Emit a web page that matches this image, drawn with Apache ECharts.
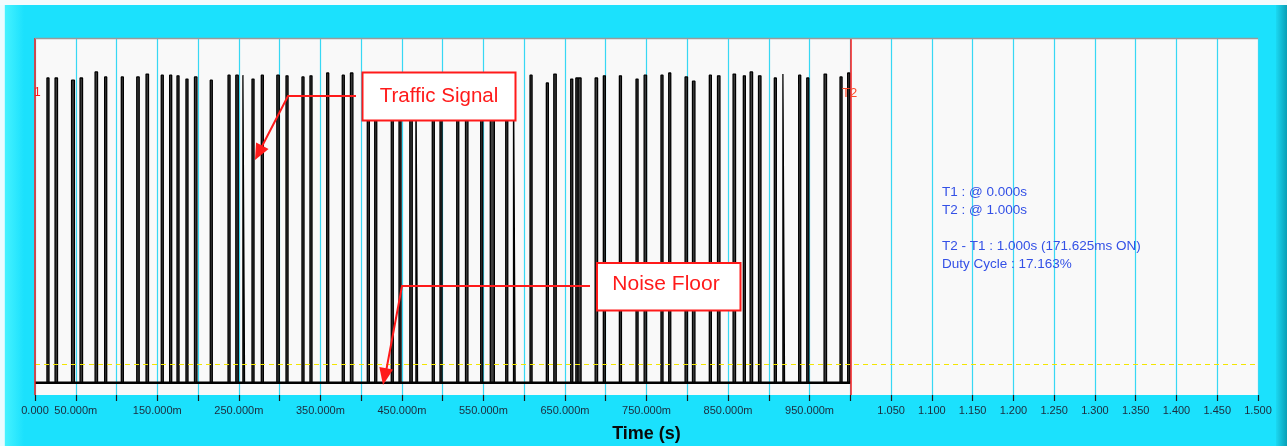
<!DOCTYPE html>
<html>
<head>
<meta charset="utf-8">
<script src="https://cdn.jsdelivr.net/npm/echarts@6/dist/echarts.min.js"></script>
<style>
html,body{margin:0;padding:0;background:#1be1fd;}
#chart{width:1287px;height:446px;}
</style>
</head>
<body>
<div id="chart"></div>
<script>
// ---- Data (time in ms, amplitude in arbitrary units 0..100) ----
const pulseCenters = [
  15.9, 26.1, 46.6, 56.8, 75.2, 86.7, 107.1, 126.3, 137.7, 156.1, 166.4, 175.4,
  186.4, 197.1, 216.2, 238.0, 247.8, 256.0, 267.4, 278.8, 298.1, 309.1, 328.7,
  338.5, 359.0, 378.1, 388.4, 408.8, 417.9, 438.2, 447.7, 461.2, 468.2, 488.5,
  498.0, 518.5, 529.5, 547.9, 560.9, 578.6, 587.9, 608.4, 628.4, 637.8, 658.3,
  664.6, 668.0, 688.5, 698.3, 718.0, 738.4, 748.6, 769.0, 778.5, 798.8, 807.9,
  828.3, 838.6, 857.7, 870.0, 878.6, 888.9, 908.0, 918.3, 937.9, 947.8, 969.3,
  988.6, 998.0
];
const pulseWidths = [
  2.5, 3.0, 3.5, 3.0, 3.0, 2.5, 2.5, 3.0, 3.0, 2.5, 2.5, 2.5,
  2.5, 3.0, 2.5, 2.5, 3.0, 2.0, 2.5, 2.5, 3.0, 2.5, 2.5,
  2.5, 2.5, 2.5, 3.0, 2.5, 2.5, 2.5, 2.5, 3.0, 2.0, 2.5,
  2.5, 2.5, 3.0, 2.5, 5.0, 2.5, 2.0, 2.5, 2.5, 3.0, 2.5,
  2.5, 3.5, 3.0, 2.5, 2.5, 2.5, 3.0, 2.5, 2.5, 3.0, 3.0,
  2.5, 3.0, 3.0, 2.5, 3.0, 3.0, 2.5, 2.0, 2.5, 2.5, 3.0,
  2.5, 2.5
];
const pulseHeights = [
  88.8, 88.8, 88.2, 88.8, 90.5, 89.1, 89.1, 89.1, 89.9, 89.6, 89.6, 89.4,
  88.5, 89.1, 88.2, 89.6, 89.6, 89.6, 88.5, 89.6, 89.6, 89.4, 89.1,
  89.4, 90.2, 89.6, 90.2, 89.4, 89.4, 89.4, 89.4, 89.4, 89.4, 89.4,
  89.4, 89.4, 89.4, 89.4, 89.4, 89.4, 89.4, 89.6, 87.4, 89.9, 88.5,
  88.8, 88.8, 88.8, 89.4, 89.4, 88.5, 89.6, 89.6, 90.2, 89.1, 87.9,
  89.6, 89.4, 89.9, 89.4, 90.5, 89.4, 88.8, 89.9, 89.6, 88.8, 89.9,
  89.1, 90.2
];
const baseLevel = 3.4;          // noise floor trace level
const noiseFloorLevel = 8.7;    // yellow dashed threshold
const cursorT1 = 0.0;           // seconds
const cursorT2 = 1.0;           // seconds
const xMin = 0, xMax = 1.5, xStep = 0.05;
const infoLines = [
  'T1 : @ 0.000s',
  'T2 : @ 1.000s',
  '',
  'T2 - T1 : 1.000s (171.625ms ON)',
  'Duty Cycle : 17.163%'
];

// ---- Build the trace from the arrays ----
const trace = [[cursorT1, baseLevel]];
for (let i = 0; i < pulseCenters.length; i++) {
  const s = (pulseCenters[i] - pulseWidths[i] / 2) / 1000;
  const e = (pulseCenters[i] + pulseWidths[i] / 2) / 1000;
  trace.push([s, baseLevel], [s, pulseHeights[i]], [e, pulseHeights[i]], [e, baseLevel]);
}
trace.push([cursorT2, baseLevel]);
const baseline = [[cursorT1, baseLevel], [cursorT2, baseLevel]];

function tickLabel(v) {
  const ms = Math.round(v * 1000);
  if (ms === 0) return '0.000';
  if (ms < 1000) return (ms % 100 === 50) ? ms.toFixed(3) + 'm' : '';
  if (ms === 1000) return '';
  return (ms / 1000).toFixed(3);
}

function arrowHead(fx, fy, tx, ty, len, hw) {
  const dx = tx - fx, dy = ty - fy, L = Math.hypot(dx, dy);
  const ux = dx / L, uy = dy / L, px = -uy, py = ux;
  const bx = tx - ux * len, by = ty - uy * len;
  return [[tx, ty], [bx + px * hw, by + py * hw], [bx - px * hw, by - py * hw]];
}

const chart = echarts.init(document.getElementById('chart'), null, {renderer: 'canvas'});
const red = '#ff1a1a';
const option = {
  animation: false,
  backgroundColor: '#1be1fd',
  grid: {left: 35, right: 29, top: 38, bottom: 51, show: true, backgroundColor: '#f9f9f9', borderWidth: 0,
    containLabel: false, outerBoundsMode: 'none'},
  xAxis: {
    type: 'value', min: xMin, max: xMax, interval: xStep,
    axisLine: {show: false},
    axisTick: {show: true, length: 6, lineStyle: {color: '#1a1a1a', width: 1.2}},
    axisLabel: {show: true, margin: 10, fontSize: 11, fontFamily: 'Liberation Sans, Arial', color: '#1c2a3c',
      formatter: tickLabel, showMinLabel: true, showMaxLabel: true, hideOverlap: false},
    splitLine: {show: true, lineStyle: {color: '#37d8f4', width: 1.2}},
    name: 'Time (s)', nameLocation: 'middle', nameGap: 30,
    nameTextStyle: {fontSize: 18, fontWeight: 'bold', fontFamily: 'Liberation Sans, Arial', color: '#0a0a0a'}
  },
  yAxis: {
    type: 'value', min: 0, max: 100,
    axisLine: {show: false}, axisTick: {show: false}, axisLabel: {show: false}, splitLine: {show: false}
  },
  series: [
    {
      type: 'line', data: baseline, symbol: 'none', silent: true, z: 3,
      lineStyle: {color: '#000', width: 2.5},
      markLine: {
        silent: true, symbol: ['none', 'none'], label: {show: false}, animation: false,
        data: [
          {yAxis: noiseFloorLevel, lineStyle: {color: '#f3e600', type: [5, 4], width: 1.2}},
          {xAxis: cursorT1, lineStyle: {color: red, type: 'solid', width: 1.5}},
          {xAxis: cursorT2, lineStyle: {color: red, type: 'solid', width: 1.5}}
        ]
      }
    },
    {
      type: 'line', data: trace, symbol: 'none', silent: true, z: 4,
      lineStyle: {color: '#000', width: 1.3},
      areaStyle: {color: '#000', opacity: 0.75, origin: baseLevel}
    }
  ],
  graphic: [
    {type: 'rect', shape: {x: 0, y: 0, width: 1287, height: 5}, style: {fill: '#f4fbfd'}, z: -5},
    {type: 'rect', shape: {x: 0, y: 5, width: 24, height: 441}, z: -5,
      style: {fill: new echarts.graphic.LinearGradient(0, 0, 1, 0, [
        {offset: 0, color: '#eafcff'}, {offset: 0.18, color: '#eafcff'},
        {offset: 0.22, color: '#45f2ff'}, {offset: 1, color: '#1be1fd'}])}},
    {type: 'rect', shape: {x: 1276, y: 5, width: 11, height: 441}, z: -5,
      style: {fill: new echarts.graphic.LinearGradient(0, 0, 1, 0, [
        {offset: 0, color: '#1bd8f2'}, {offset: 1, color: '#0a9fb6'}])}},
    {type: 'line', shape: {x1: 35, y1: 38.5, x2: 1258, y2: 38.5}, style: {stroke: '#9a9a9a', lineWidth: 1.5}, z: 50},
    // cursor labels
    {type: 'text', x: 34, y: 93, z: 60, style: {text: '1', fill: red, font: '12px Liberation Sans, Arial', textVerticalAlign: 'middle'}},
    {type: 'text', x: 842, y: 93, z: 60, style: {text: 'T2', fill: '#ff4a2a', font: '13px Liberation Sans, Arial', textVerticalAlign: 'middle'}},
    // info text
    ...infoLines.map((t, i) => ({type: 'text', x: 942, y: 192 + i * 18, z: 60,
      style: {text: t, fill: '#3350e6', font: '13.5px Liberation Sans, Arial', textVerticalAlign: 'middle'}})),
    // Traffic Signal annotation
    {type: 'polyline', z: 70, shape: {points: [[356, 96], [288, 96], [258, 154]]}, style: {stroke: red, lineWidth: 2, fill: null}},
    {type: 'polygon', z: 70, shape: {points: arrowHead(288, 96, 255, 160, 16, 7)}, style: {fill: red}},
    {type: 'rect', z: 70, shape: {x: 362.5, y: 72.5, width: 153, height: 48}, style: {fill: '#ffffff', stroke: red, lineWidth: 2}},
    {type: 'text', z: 71, x: 439, y: 96, style: {text: 'Traffic Signal', fill: red, font: '20.5px Liberation Sans, Arial', textAlign: 'center', textVerticalAlign: 'middle'}},
    // Noise Floor annotation
    {type: 'polyline', z: 70, shape: {points: [[590, 286], [402, 286], [385, 377]]}, style: {stroke: red, lineWidth: 2, fill: null}},
    {type: 'polygon', z: 70, shape: {points: arrowHead(402, 286, 383, 385, 17, 7)}, style: {fill: red}},
    {type: 'rect', z: 70, shape: {x: 597, y: 263, width: 143.5, height: 47.5}, style: {fill: '#ffffff', stroke: red, lineWidth: 2}},
    {type: 'text', z: 71, x: 666, y: 284, style: {text: 'Noise Floor', fill: red, font: '21px Liberation Sans, Arial', textAlign: 'center', textVerticalAlign: 'middle'}}
  ]
};
chart.setOption(option);
</script>
</body>
</html>
